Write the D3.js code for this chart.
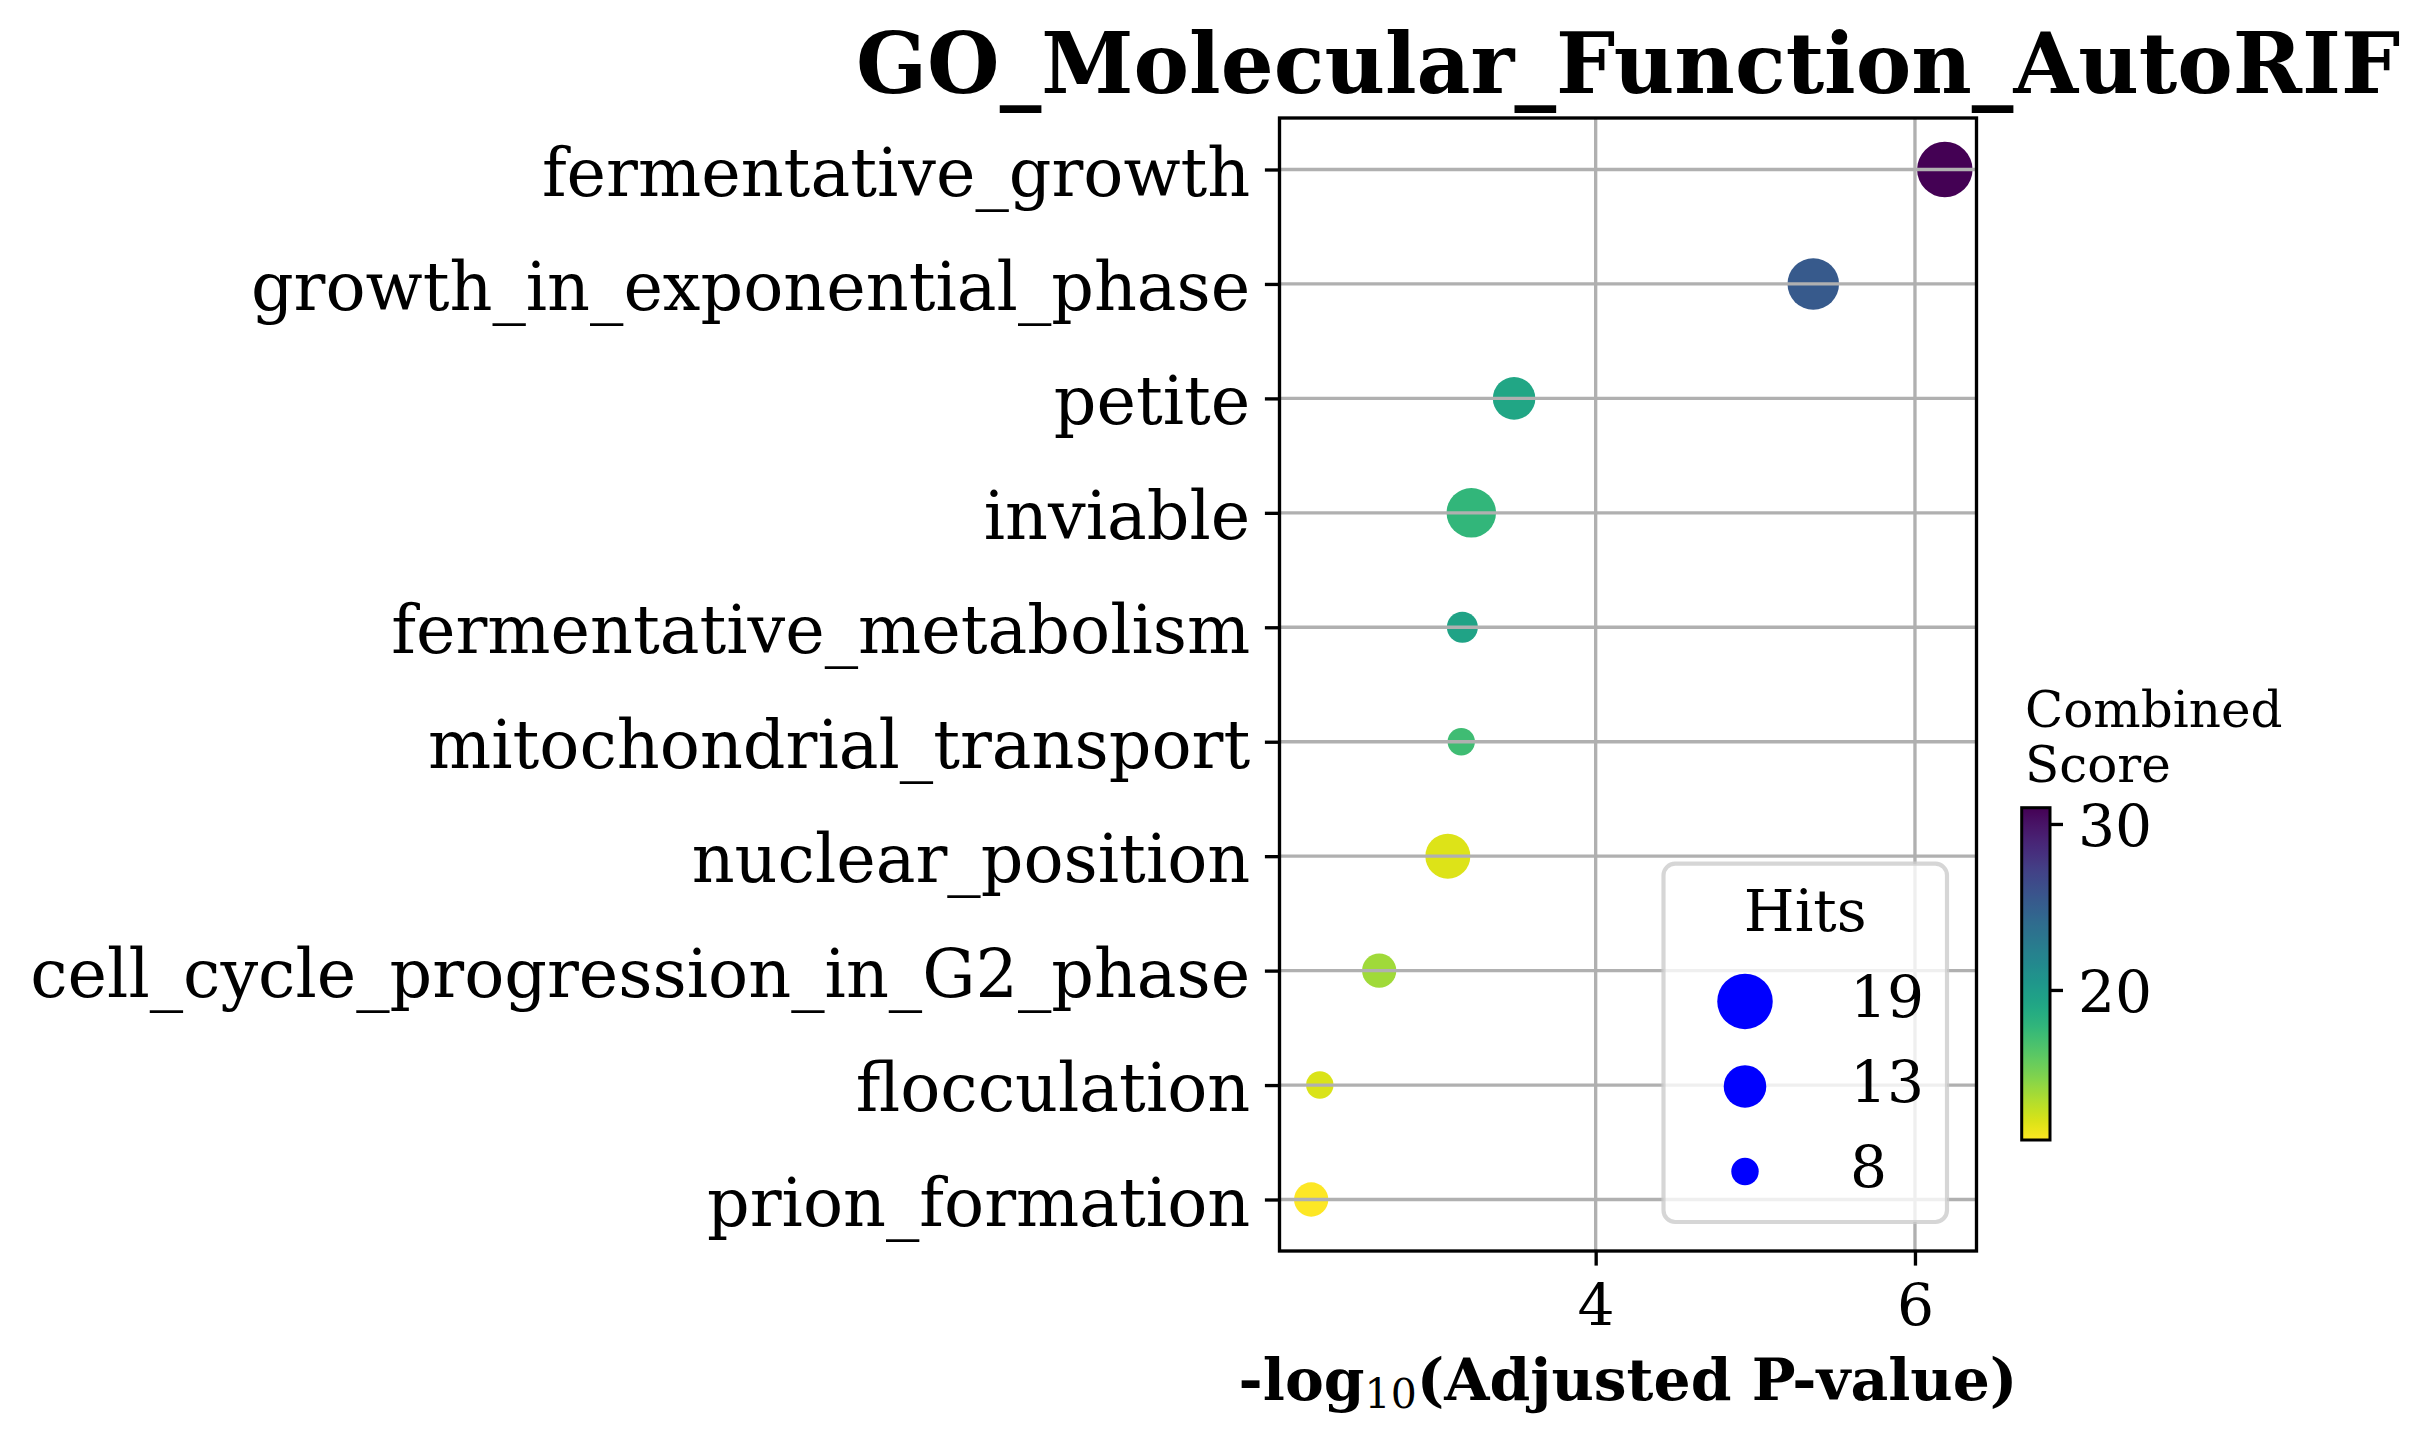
<!DOCTYPE html>
<html>
<head>
<meta charset="utf-8">
<script src="https://cdn.jsdelivr.net/npm/d3@7"></script>
<style>
  html, body { margin: 0; padding: 0; background: #ffffff; }
  svg { display: block; }
  text { font-family: "DejaVu Serif", serif; fill: #000; }
</style>
</head>
<body>
<svg id="chart" width="2430" height="1444"></svg>
<script>
// ---- data ----
const terms = [
  "fermentative_growth",
  "growth_in_exponential_phase",
  "petite",
  "inviable",
  "fermentative_metabolism",
  "mitochondrial_transport",
  "nuclear_position",
  "cell_cycle_progression_in_G2_phase",
  "flocculation",
  "prion_formation"
];
const negLogP = [6.187, 5.363, 3.489, 3.221, 3.165, 3.158, 3.074, 2.644, 2.272, 2.218];
const hits = [19, 17, 13, 16, 9, 8, 14, 10, 8, 10];
const combinedScore = [30.98, 25.4, 19.1, 17.8, 19.4, 17.2, 12.0, 13.8, 12.1, 10.96];
const xTicks = [4, 6];
const colorTicks = [20, 30];
const legendHits = [19, 13, 8];
const titleText = "GO_Molecular_Function_AutoRIF";
const cbarTitle = ["Combined", "Score"];

// ---- layout ----
const W = 2430, H = 1444;
const ax = { left: 1279.5, right: 1976.5, top: 118, bottom: 1251 };
const LW = 3.33;          // 0.8pt at 300 dpi
const TICK = 14.6;        // 3.5pt at 300 dpi
const FS = 58.3;          // 14pt
const FSY = 66.7;         // 16pt (category labels)
const svg = d3.select("#chart");
svg.append("rect").attr("width", W).attr("height", H).attr("fill", "#fff");

// scales
const [xmin, xmax] = d3.extent(negLogP);
const pad = (xmax - xmin) * 0.05;
const x = d3.scaleLinear().domain([xmin - pad, xmax + pad]).range([ax.left, ax.right]);
const y = d3.scalePoint().domain(terms).range([ax.top, ax.bottom]).padding(0.45);
const [cmin, cmax] = d3.extent(combinedScore);
const color = d3.scaleSequential(t => d3.interpolateViridis(1 - t)).domain([cmin, cmax]);
const area = d3.scaleLinear().domain([8, 19]).range([751, 3080]); // diameter^2 in px^2
const radius = h => Math.sqrt(area(h)) / 2;

const data = terms.map((t, i) => ({ term: t, x: negLogP[i], hits: hits[i], score: combinedScore[i] }));

// points
svg.append("g").selectAll("circle").data(data).join("circle")
  .attr("cx", d => x(d.x))
  .attr("cy", d => y(d.term))
  .attr("r", d => radius(d.hits))
  .attr("fill", d => color(d.score));

// grid (drawn above points, as in the reference)
const grid = svg.append("g").attr("stroke", "#b0b0b0").attr("stroke-width", LW);
grid.selectAll("line.h").data(terms).join("line").attr("class", "h")
  .attr("x1", ax.left).attr("x2", ax.right)
  .attr("y1", d => y(d)).attr("y2", d => y(d));
grid.selectAll("line.v").data(xTicks).join("line").attr("class", "v")
  .attr("x1", d => x(d)).attr("x2", d => x(d))
  .attr("y1", ax.top).attr("y2", ax.bottom);

// spines
svg.append("rect")
  .attr("x", ax.left).attr("y", ax.top)
  .attr("width", ax.right - ax.left).attr("height", ax.bottom - ax.top)
  .attr("fill", "none").attr("stroke", "#000").attr("stroke-width", LW);

// x axis
const gx = svg.append("g").attr("transform", `translate(0,${ax.bottom})`)
  .call(d3.axisBottom(x).tickValues(xTicks).tickSize(TICK).tickFormat(d3.format("d")));
gx.select(".domain").remove();
gx.selectAll(".tick line").attr("stroke", "#000").attr("stroke-width", LW);
gx.selectAll(".tick text").attr("y", 74).attr("dy", null)
  .style("font-family", "DejaVu Serif").style("font-size", FS + "px").attr("fill", "#000");

// y axis
const gy = svg.append("g").attr("transform", `translate(${ax.left},0)`)
  .call(d3.axisLeft(y).tickSize(TICK));
gy.select(".domain").remove();
gy.selectAll(".tick line").attr("stroke", "#000").attr("stroke-width", LW);
gy.selectAll(".tick text").attr("x", -(TICK + 14.6)).attr("dy", null).attr("y", 25.6)
  .style("font-family", "DejaVu Serif").style("font-size", FSY + "px").attr("fill", "#000");

// title
svg.append("text")
  .attr("x", (ax.left + ax.right) / 2).attr("y", 93)
  .attr("text-anchor", "middle")
  .style("font-size", "83.3px").style("font-weight", "bold")
  .text(titleText);

// x label
const xl = svg.append("text")
  .attr("x", (ax.left + ax.right) / 2).attr("y", 1400)
  .attr("text-anchor", "middle")
  .style("font-size", FS + "px").style("font-weight", "bold");
xl.append("tspan").text("-log");
xl.append("tspan").attr("dy", 8).style("font-size", "41px").style("font-weight", "normal").text("10");
xl.append("tspan").attr("dy", -8).text("(Adjusted P-value)");

// legend
const lg = { x0: 1663.5, x1: 1947, y0: 863.7, y1: 1222 };
svg.append("rect")
  .attr("x", lg.x0).attr("y", lg.y0)
  .attr("width", lg.x1 - lg.x0).attr("height", lg.y1 - lg.y0)
  .attr("rx", 11.7).attr("ry", 11.7)
  .attr("fill", "#fff").attr("fill-opacity", 0.8)
  .attr("stroke", "#cccccc").attr("stroke-opacity", 0.8).attr("stroke-width", 4.17);
svg.append("text")
  .attr("x", (lg.x0 + lg.x1) / 2).attr("y", 931)
  .attr("text-anchor", "middle").style("font-size", FS + "px").text("Hits");
const legRows = d3.scalePoint().domain(legendHits).range([1001.4, 1171.5]);
const lgItems = svg.append("g").selectAll("g").data(legendHits).join("g");
lgItems.append("circle")
  .attr("cx", 1745).attr("cy", d => legRows(d))
  .attr("r", d => radius(d)).attr("fill", "#0000ff");
lgItems.append("text")
  .attr("x", 1850).attr("y", d => legRows(d) + 15.5)
  .style("font-size", FS + "px").text(d => d);

// colorbar
const cb = { x: 2021.7, w: 28.3, top: 807.7, bottom: 1140 };
const cy = d3.scaleLinear().domain([cmin, cmax]).range([cb.bottom, cb.top]);
const defs = svg.append("defs");
const grad = defs.append("linearGradient").attr("id", "cbgrad")
  .attr("x1", 0).attr("y1", 1).attr("x2", 0).attr("y2", 0);
d3.range(0, 1.0001, 0.02).forEach(t => {
  grad.append("stop").attr("offset", t).attr("stop-color", color(cmin + t * (cmax - cmin)));
});
svg.append("rect")
  .attr("x", cb.x).attr("y", cb.top).attr("width", cb.w).attr("height", cb.bottom - cb.top)
  .attr("fill", "url(#cbgrad)").attr("stroke", "#000").attr("stroke-width", 3);
const gc = svg.append("g").attr("transform", `translate(${cb.x + cb.w},0)`)
  .call(d3.axisRight(cy).tickValues(colorTicks).tickSize(13).tickFormat(d3.format("d")));
gc.select(".domain").remove();
gc.selectAll(".tick line").attr("stroke", "#000").attr("stroke-width", LW);
gc.selectAll(".tick text").attr("x", 28).attr("dy", null).attr("y", 22)
  .style("font-family", "DejaVu Serif").style("font-size", FS + "px").attr("fill", "#000");
svg.append("g").selectAll("text").data(cbarTitle).join("text")
  .attr("x", 2025).attr("y", (d, i) => 727 + i * 55)
  .style("font-size", "50px").text(d => d);
</script>
</body>
</html>
